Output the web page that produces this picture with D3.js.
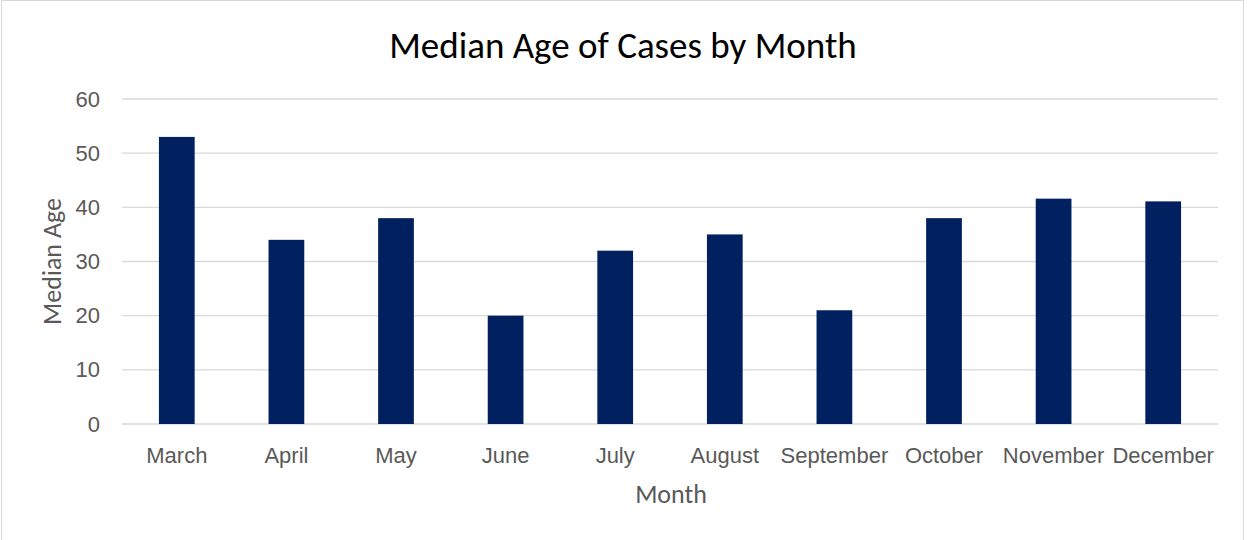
<!DOCTYPE html>
<html>
<head>
<meta charset="utf-8">
<script src="https://cdn.jsdelivr.net/npm/d3@7"></script>
<style>
  body { margin: 0; background: #fff; }
  svg { display: block; font-family: Carlito, Calibri, Lato, sans-serif; }
</style>
</head>
<body>
<svg id="chart" width="1247" height="540"></svg>
<script>
// median age per month
var months = ['March', 'April', 'May', 'June', 'July', 'August', 'September', 'October', 'November', 'December']
var medianAge = [53, 34, 38, 20, 32, 35, 21, 38, 41.6, 41.1]
var yTicks = [0, 10, 20, 30, 40, 50, 60]

var svg = d3.select('#chart')
var margin = { top: 99, right: 29, bottom: 116, left: 122 }
var width = +svg.attr('width')
var height = +svg.attr('height')
var plotW = width - margin.left - margin.right
var plotH = height - margin.top - margin.bottom

// light frame round the chart
svg.append('rect')
   .attr('x', 1.5).attr('y', 0.5)
   .attr('width', width - 5).attr('height', height + 10)
   .attr('fill', 'none')
   .attr('stroke', '#d9d9d9')

var g = svg.append('g')
           .attr('transform', 'translate(' + margin.left + ',' + margin.top + ')')

var xScale = d3.scaleBand()
               .domain(months)
               .range([0, plotW])
               .paddingInner(0.674)
               .paddingOuter(0.337)
var yScale = d3.scaleLinear()
               .domain([0, 60])
               .range([plotH, 0])

// gridlines
g.append('g')
 .selectAll('line')
 .data(yTicks)
 .enter()
 .append('line')
 .attr('x1', 0)
 .attr('x2', plotW)
 .attr('y1', function(d) { return yScale(d) })
 .attr('y2', function(d) { return yScale(d) })
 .attr('stroke', '#d9d9d9')
 .attr('stroke-width', 1.3)

var yAxis = d3.axisLeft(yScale).tickValues(yTicks).tickSize(0).tickPadding(22)
var yg = g.append('g').call(yAxis)
yg.select('.domain').remove()
yg.selectAll('text')
  .attr('fill', '#595959')
  .style('font-size', '22px')

g.selectAll('.bar')
 .data(medianAge)
 .enter()
 .append('rect')
 .attr('class', 'bar')
 .attr('x', function(d, i) { return xScale(months[i]) })
 .attr('y', function(d) { return yScale(d) })
 .attr('width', xScale.bandwidth())
 .attr('height', function(d) { return plotH - yScale(d) })
 .attr('fill', '#002060')

var xAxis = d3.axisBottom(xScale).tickSize(0).tickPadding(23)
var xg = g.append('g')
          .attr('transform', 'translate(0,' + plotH + ')')
          .call(xAxis)
xg.select('.domain').remove()
xg.selectAll('text')
  .attr('fill', '#595959')
  .style('font-size', '22px')

svg.append('text')
   .attr('x', 623)
   .attr('y', 58)
   .attr('text-anchor', 'middle')
   .attr('fill', '#000')
   .style('font-size', '37px')
   .text('Median Age of Cases by Month')

svg.append('text')
   .attr('x', margin.left + plotW / 2 + 1)
   .attr('y', 503)
   .attr('text-anchor', 'middle')
   .attr('fill', '#595959')
   .style('font-size', '26px')
   .text('Month')

svg.append('text')
   .attr('transform', 'translate(61,' + (margin.top + plotH / 2) + ') rotate(-90)')
   .attr('text-anchor', 'middle')
   .attr('fill', '#595959')
   .style('font-size', '26px')
   .text('Median Age')
</script>
</body>
</html>
